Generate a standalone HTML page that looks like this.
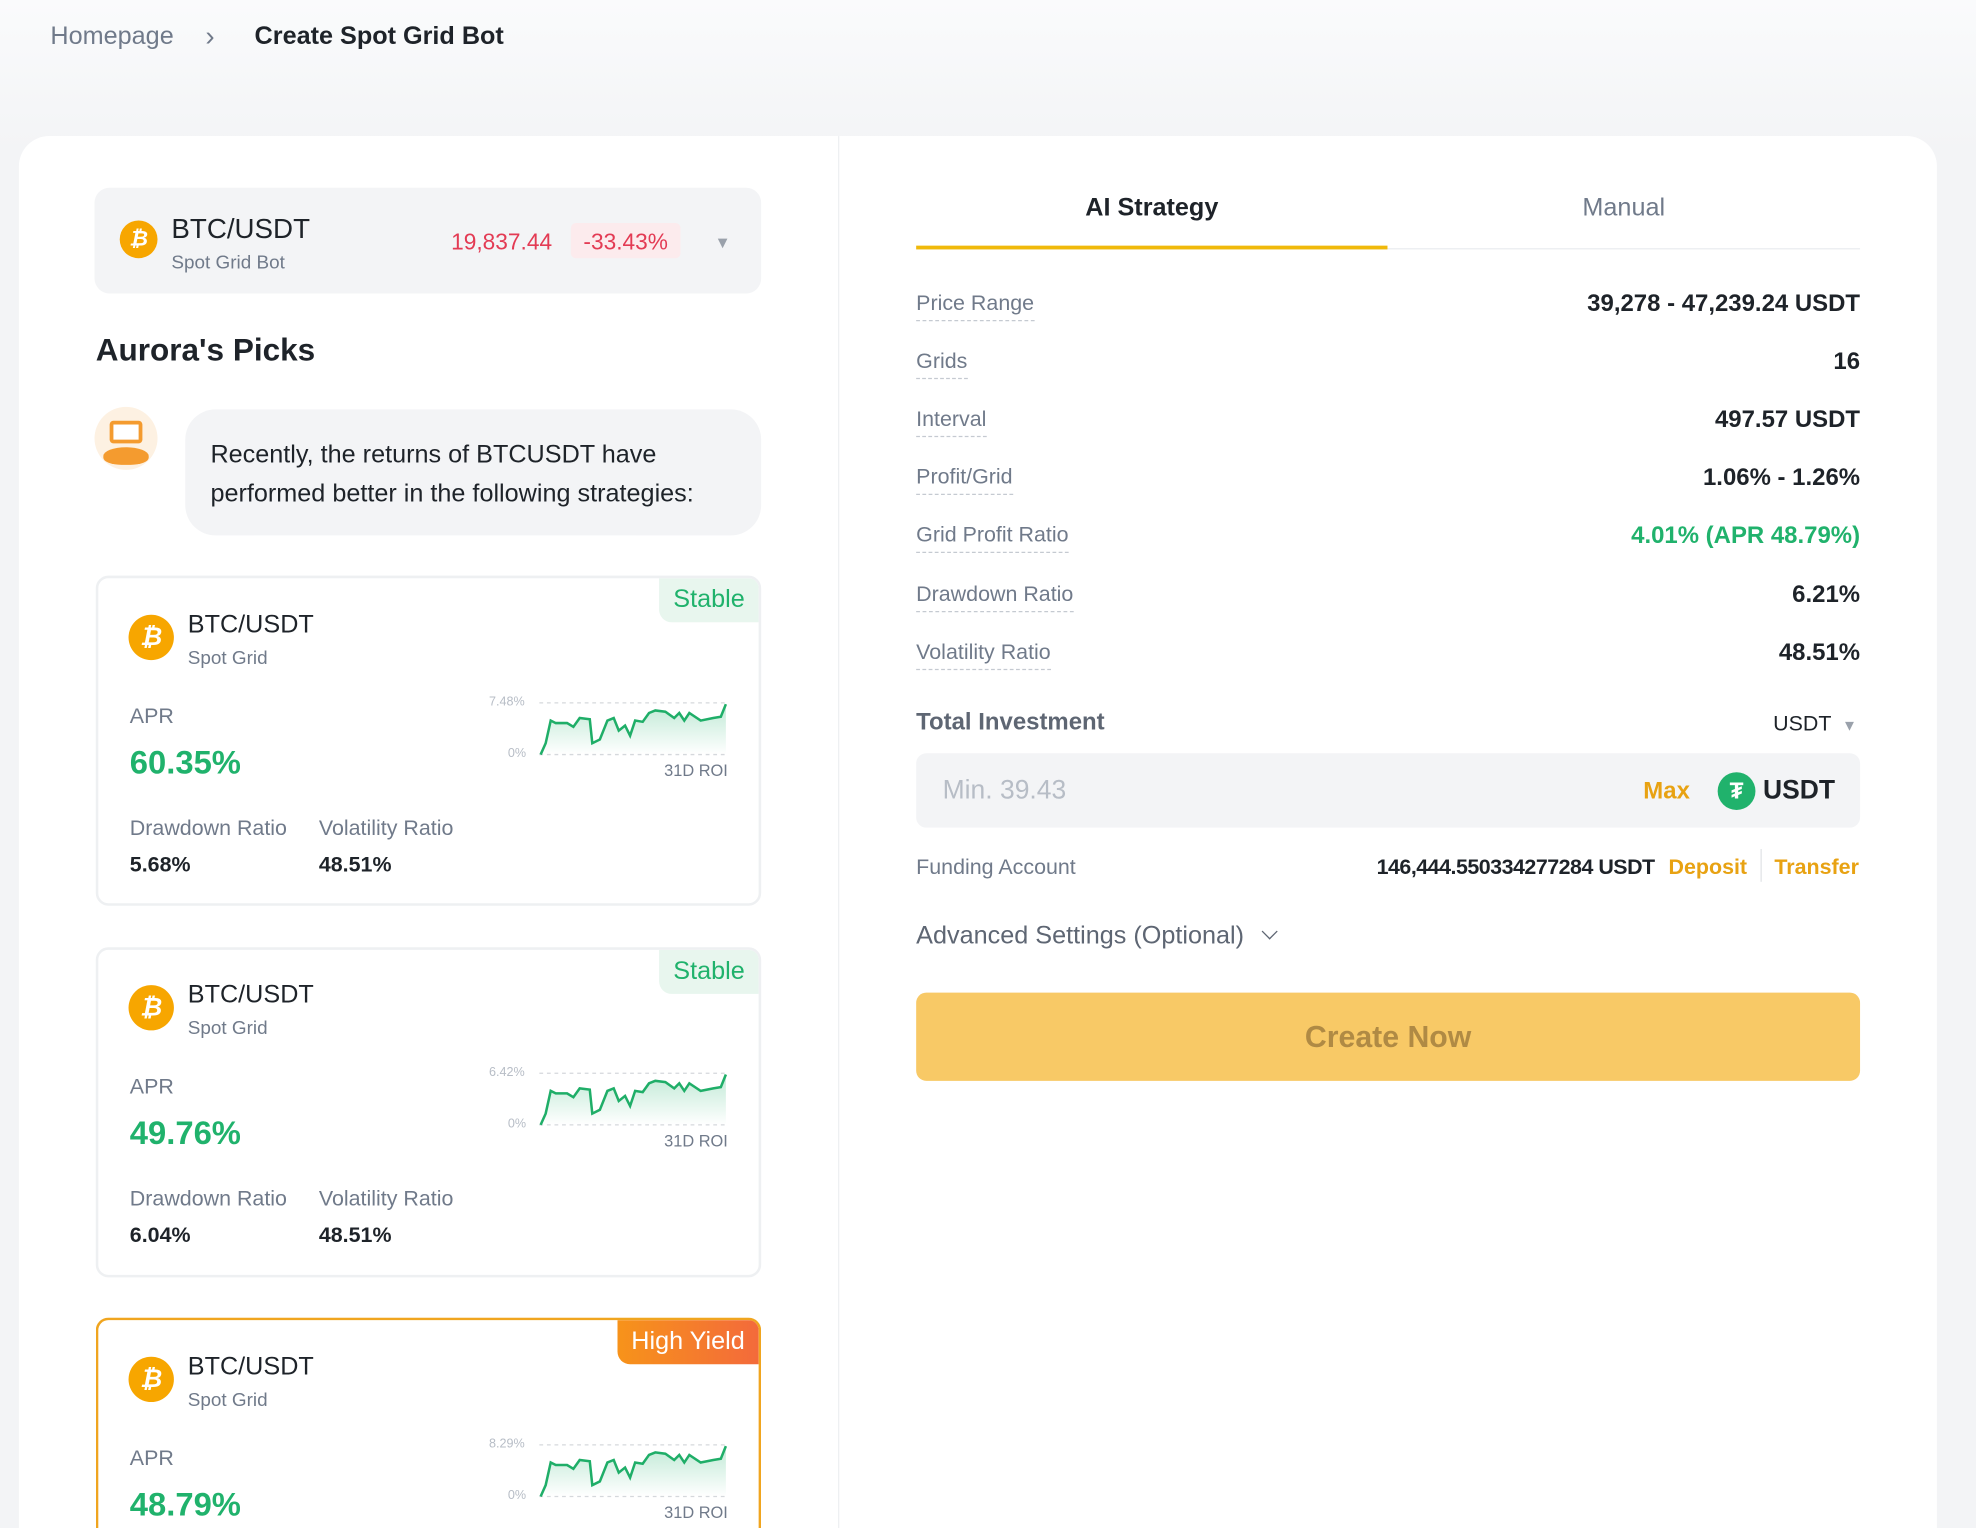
<!DOCTYPE html>
<html><head><meta charset="utf-8">
<style>
html,body{margin:0;padding:0;width:1976px;height:1528px;overflow:hidden;background:#f5f6f8;}
#w{position:absolute;left:0;top:0;width:1568px;height:1213px;overflow:hidden;transform:scale(1.2602,1.2597);transform-origin:0 0;font-family:"Liberation Sans",sans-serif;color:#1e2329;background:linear-gradient(#fafbfc,#f3f4f6 120px,#f3f4f6);}
.a{position:absolute;white-space:nowrap;}
.g{color:#707a8a}
.card{position:absolute;left:76px;width:524px;height:258px;border:2px solid #eef0f2;border-radius:10px;background:#fff;overflow:hidden}
.tag{position:absolute;right:0;top:0;height:35px;line-height:35px;padding:0 11px;font-size:20px;border-bottom-left-radius:10px}
.coin{position:absolute;border-radius:50%;background:#f7a600;color:#fff;font-weight:bold;text-align:center;font-style:italic}
.lbl{position:absolute;left:727px;font-size:17px;color:#707a8a;border-bottom:1px dashed #c5cad1;padding-bottom:3px;transform:translateY(-50%)}
.val{position:absolute;right:92px;font-size:19px;font-weight:bold;color:#1e2329;transform:translateY(-50%);white-space:nowrap}
</style></head><body><div id="w">
<div class="a g" style="left:40px;top:18px;font-size:20px;">Homepage</div>
<div class="a g" style="left:163px;top:16px;font-size:22px;">&#8250;</div>
<div class="a" style="left:202px;top:18px;font-size:20px;font-weight:bold;">Create Spot Grid Bot</div>

<div class="a" style="left:15px;top:108px;width:1522px;height:1105px;background:#fff;border-radius:24px 24px 0 0;"></div>
<div class="a" style="left:665px;top:108px;width:1px;height:1105px;background:#eef0f2;"></div>

<div class="a" style="left:75px;top:149px;width:529px;height:84px;background:#f3f4f6;border-radius:12px;"></div>
<div class="coin" style="left:95px;top:175px;width:30px;height:30px;line-height:30px;font-size:17px;">₿</div>
<div class="a" style="left:136px;top:169px;font-size:22px;">BTC/USDT</div>
<div class="a g" style="left:136px;top:200px;font-size:15px;">Spot Grid Bot</div>
<div class="a" style="left:358px;top:182px;font-size:18px;color:#e33b54;">19,837.44</div>
<div class="a" style="left:453px;top:177px;width:87px;height:28px;background:#fcebed;border-radius:4px;color:#e33b54;font-size:18px;line-height:30px;text-align:center;">-33.43%</div>
<div class="a" style="left:567px;top:185px;font-size:13px;color:#9aa1ab;">▼</div>

<div class="a" style="left:76px;top:264px;font-size:25px;font-weight:bold;">Aurora's Picks</div>
<div class="a" style="left:75px;top:323px;width:50px;height:50px;border-radius:50%;background:#fdf1e2;"></div>
<div class="a" style="left:87px;top:334px;width:26px;height:18px;background:#f49b2f;border-radius:3px;"></div>
<div class="a" style="left:90px;top:337px;width:20px;height:12px;background:#fff;"></div>
<div class="a" style="left:82px;top:355px;width:36px;height:14px;background:#f49b2f;border-radius:50% 50% 40% 40%;"></div>
<div class="a" style="left:147px;top:325px;width:457px;height:100px;background:#f3f4f6;border-radius:24px;"></div>
<div class="a" style="left:167px;top:346px;font-size:20px;line-height:31px;white-space:normal;width:430px;">Recently, the returns of BTCUSDT have performed better in the following strategies:</div>

<svg width="0" height="0" style="position:absolute"><defs>
<linearGradient id="gr" x1="0" y1="0" x2="0" y2="1"><stop offset="0" stop-color="#20b26c" stop-opacity=".28"/><stop offset="1" stop-color="#20b26c" stop-opacity="0"/></linearGradient>
<g id="sp">
<line x1="0" y1="0" x2="148" y2="0" stroke="#d5d8dc" stroke-dasharray="3,3"/>
<line x1="0" y1="41" x2="148" y2="41" stroke="#d5d8dc" stroke-dasharray="3,3"/>
<path d="M1 41 L5 32 9 14 13 16 22 16 27 19 32 12 40 13 42 32 48 29 54 14 59 12 63 22 68 18 72 26 76 14 82 15 87 8 92 6 100 7 107 12 111 8 115 14 119 8 128 14 138 12 144 11 148 1 L148 41 Z" fill="url(#gr)"/>
<path d="M1 41 L5 32 9 14 13 16 22 16 27 19 32 12 40 13 42 32 48 29 54 14 59 12 63 22 68 18 72 26 76 14 82 15 87 8 92 6 100 7 107 12 111 8 115 14 119 8 128 14 138 12 144 11 148 1" fill="none" stroke="#1fae68" stroke-width="2"/>
</g></defs></svg>

<div class="card" style="top:457px;">
 <div class="tag" style="background:#e8f6ee;color:#20b26c;">Stable</div>
</div>
<div class="card" style="top:752px;">
 <div class="tag" style="background:#e8f6ee;color:#20b26c;">Stable</div>
</div>
<div class="card" style="top:1046px;border-color:#f0a51f;border-bottom:none;border-radius:10px 10px 0 0;height:167px;">
 <div class="tag" style="background:linear-gradient(90deg,#f7931a,#f36a3b);color:#fff;">High Yield</div>
</div>

<div style="position:absolute;left:0;top:2px;width:1568px;">
<div class="coin" style="left:102px;top:486px;width:36px;height:36px;line-height:36px;font-size:20px;">₿</div>
<div class="a" style="left:149px;top:483px;font-size:20px;">BTC/USDT</div>
<div class="a g" style="left:149px;top:512px;font-size:15px;">Spot Grid</div>
<div class="a g" style="left:103px;top:557px;font-size:17px;">APR</div>
<div class="a" style="left:103px;top:588px;font-size:26px;font-weight:bold;color:#20b26c;">60.35%</div>
<div class="a" style="left:388px;top:550px;font-size:10px;color:#b7bdc6;">7.48%</div>
<div class="a" style="left:403px;top:591px;font-size:10px;color:#b7bdc6;">0%</div>
<svg class="a" style="left:428px;top:556px;overflow:visible" width="148" height="42"><use href="#sp"/></svg>
<div class="a g" style="left:527px;top:602px;font-size:13px;">31D ROI</div>
<div class="a g" style="left:103px;top:646px;font-size:17px;">Drawdown Ratio</div>
<div class="a g" style="left:253px;top:646px;font-size:17px;">Volatility Ratio</div>
<div class="a" style="left:103px;top:675px;font-size:17px;font-weight:bold;">5.68%</div>
<div class="a" style="left:253px;top:675px;font-size:17px;font-weight:bold;">48.51%</div>
</div>
<div style="position:absolute;left:0;top:296px;width:1568px;">
<div class="coin" style="left:102px;top:486px;width:36px;height:36px;line-height:36px;font-size:20px;">₿</div>
<div class="a" style="left:149px;top:483px;font-size:20px;">BTC/USDT</div>
<div class="a g" style="left:149px;top:512px;font-size:15px;">Spot Grid</div>
<div class="a g" style="left:103px;top:557px;font-size:17px;">APR</div>
<div class="a" style="left:103px;top:588px;font-size:26px;font-weight:bold;color:#20b26c;">49.76%</div>
<div class="a" style="left:388px;top:550px;font-size:10px;color:#b7bdc6;">6.42%</div>
<div class="a" style="left:403px;top:591px;font-size:10px;color:#b7bdc6;">0%</div>
<svg class="a" style="left:428px;top:556px;overflow:visible" width="148" height="42"><use href="#sp"/></svg>
<div class="a g" style="left:527px;top:602px;font-size:13px;">31D ROI</div>
<div class="a g" style="left:103px;top:646px;font-size:17px;">Drawdown Ratio</div>
<div class="a g" style="left:253px;top:646px;font-size:17px;">Volatility Ratio</div>
<div class="a" style="left:103px;top:675px;font-size:17px;font-weight:bold;">6.04%</div>
<div class="a" style="left:253px;top:675px;font-size:17px;font-weight:bold;">48.51%</div>
</div>
<div style="position:absolute;left:0;top:591px;width:1568px;height:622px;">
<div class="coin" style="left:102px;top:486px;width:36px;height:36px;line-height:36px;font-size:20px;">₿</div>
<div class="a" style="left:149px;top:483px;font-size:20px;">BTC/USDT</div>
<div class="a g" style="left:149px;top:512px;font-size:15px;">Spot Grid</div>
<div class="a g" style="left:103px;top:557px;font-size:17px;">APR</div>
<div class="a" style="left:103px;top:588px;font-size:26px;font-weight:bold;color:#20b26c;">48.79%</div>
<div class="a" style="left:388px;top:550px;font-size:10px;color:#b7bdc6;">8.29%</div>
<div class="a" style="left:403px;top:591px;font-size:10px;color:#b7bdc6;">0%</div>
<svg class="a" style="left:428px;top:556px;overflow:visible" width="148" height="42"><use href="#sp"/></svg>
<div class="a g" style="left:527px;top:602px;font-size:13px;">31D ROI</div>
</div>

<div class="a" style="left:727px;top:154px;width:374px;text-align:center;font-size:20px;font-weight:bold;">AI Strategy</div>
<div class="a g" style="left:1101px;top:154px;width:375px;text-align:center;font-size:20px;">Manual</div>
<div class="a" style="left:727px;top:197px;width:749px;height:1px;background:#eaecef;"></div>
<div class="a" style="left:727px;top:195px;width:374px;height:3px;background:#f0b90b;"></div>

<div class="lbl" style="top:243px;">Price Range</div><div class="val" style="top:242px;">39,278 - 47,239.24 USDT</div>
<div class="lbl" style="top:289px;">Grids</div><div class="val" style="top:288px;">16</div>
<div class="lbl" style="top:335px;">Interval</div><div class="val" style="top:334px;">497.57 USDT</div>
<div class="lbl" style="top:381px;">Profit/Grid</div><div class="val" style="top:380px;">1.06% - 1.26%</div>
<div class="lbl" style="top:427px;">Grid Profit Ratio</div><div class="val" style="top:426px;color:#20b26c;">4.01% (APR 48.79%)</div>
<div class="lbl" style="top:474px;">Drawdown Ratio</div><div class="val" style="top:473px;">6.21%</div>
<div class="lbl" style="top:520px;">Volatility Ratio</div><div class="val" style="top:519px;">48.51%</div>

<div class="a" style="left:727px;top:563px;font-size:19px;font-weight:bold;color:#5e6673;">Total Investment</div>
<div class="a" style="left:1407px;top:565px;font-size:17px;">USDT <span style="color:#9aa1ab;font-size:12px;margin-left:4px;">▼</span></div>
<div class="a" style="left:727px;top:598px;width:749px;height:59px;background:#f3f4f6;border-radius:8px;"></div>
<div class="a" style="left:748px;top:616px;font-size:21px;color:#b7bdc6;">Min. 39.43</div>
<div class="a" style="left:1304px;top:618px;font-size:19px;font-weight:bold;color:#e8a212;">Max</div>
<div class="a" style="left:1363px;top:613px;width:30px;height:30px;border-radius:50%;background:#20b26c;color:#fff;font-weight:bold;text-align:center;line-height:30px;font-size:18px;">₮</div>
<div class="a" style="left:1399px;top:616px;font-size:21px;font-weight:bold;">USDT</div>

<div class="a g" style="left:727px;top:679px;font-size:17px;">Funding Account</div>
<div class="a" style="left:1062px;top:679px;font-size:17px;width:251px;text-align:right;font-weight:bold;letter-spacing:-0.4px;">146,444.550334277284 USDT</div>
<div class="a" style="left:1324px;top:679px;font-size:17px;font-weight:bold;color:#e8a212;">Deposit</div>
<div class="a" style="left:1397px;top:674px;width:1px;height:26px;background:#e0e3e7;"></div>
<div class="a" style="left:1408px;top:679px;font-size:17px;font-weight:bold;color:#e8a212;">Transfer</div>

<div class="a" style="left:727px;top:732px;font-size:20px;color:#5e6673;">Advanced Settings (Optional) <span style="display:inline-block;width:8px;height:8px;border-right:1.6px solid #5e6673;border-bottom:1.6px solid #5e6673;transform:rotate(45deg);margin-left:10px;position:relative;top:-5px;"></span></div>

<div class="a" style="left:727px;top:788px;width:749px;height:70px;background:#f8c966;border-radius:8px;color:#b08a44;font-size:24px;font-weight:bold;text-align:center;line-height:72px;">Create Now</div>
</div></body></html>
